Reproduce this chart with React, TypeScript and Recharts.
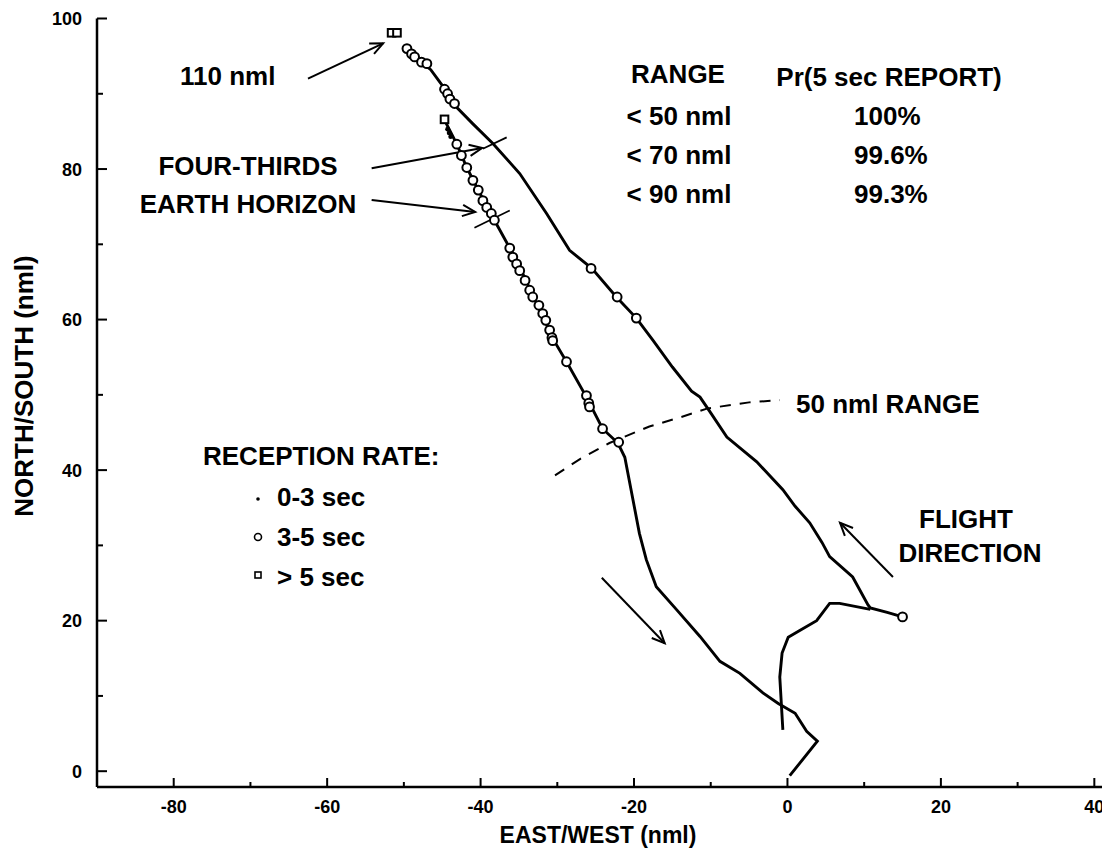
import { ComposedChart, XAxis, YAxis, Scatter, ReferenceLine } from "recharts"

// flight track (nml east/west, nml north/south)
const outbound = [
  { x: -49.6, y: 96 }, { x: -48.8, y: 95 }, { x: -47.5, y: 94 }, { x: -46.5, y: 93.2 },
  { x: -45.5, y: 91.8 }, { x: -44.7, y: 90.7 }, { x: -43.5, y: 88.6 }, { x: -41, y: 86 },
  { x: -38.4, y: 83.4 }, { x: -34.9, y: 79.4 }, { x: -31.4, y: 74.1 }, { x: -28.4, y: 69.2 },
  { x: -25.5, y: 66.8 }, { x: -22.3, y: 63 }, { x: -19.7, y: 60.2 }, { x: -17.5, y: 57.2 },
  { x: -15, y: 53.7 }, { x: -12.5, y: 50.5 }, { x: -11.4, y: 49.7 }, { x: -10.2, y: 47.9 },
  { x: -7.9, y: 44.4 }, { x: -4, y: 41.1 }, { x: -0.6, y: 37.4 }, { x: 1, y: 35.2 },
  { x: 2.9, y: 33 }, { x: 4.5, y: 30.4 }, { x: 5.5, y: 28.5 }, { x: 8.5, y: 25.8 },
  { x: 10.5, y: 22.1 }, { x: 10.8, y: 21.7 }, { x: 13, y: 21.1 }, { x: 15, y: 20.5 },
]

const inbound = [
  { x: -44.7, y: 86.5 }, { x: -43.1, y: 83.3 }, { x: -41.8, y: 80.2 }, { x: -40.1, y: 76.8 },
  { x: -38.2, y: 73.2 }, { x: -36.2, y: 69.5 }, { x: -34.5, y: 66.1 }, { x: -33.2, y: 63.2 },
  { x: -31.9, y: 60.5 }, { x: -30.6, y: 57.5 }, { x: -28.8, y: 54.4 }, { x: -26.2, y: 49.7 },
  { x: -24.1, y: 45.5 }, { x: -22.1, y: 43.6 }, { x: -21.2, y: 41.7 }, { x: -20.2, y: 36.4 },
  { x: -19.3, y: 31.6 }, { x: -18.4, y: 28.1 }, { x: -17.1, y: 24.5 }, { x: -14.4, y: 21.4 },
  { x: -11.4, y: 17.9 }, { x: -8.8, y: 14.6 }, { x: -6.2, y: 13 }, { x: -3.2, y: 10.4 },
  { x: -1.2, y: 9 }, { x: 1, y: 7.7 }, { x: 2.5, y: 5.3 }, { x: 3.9, y: 4 }, { x: 0.3, y: -0.6 },
]

const climb = [
  { x: -0.6, y: 5.5 }, { x: -1, y: 12.5 }, { x: -0.7, y: 15.7 }, { x: 0.1, y: 17.8 },
  { x: 1.6, y: 18.7 }, { x: 3.8, y: 20 }, { x: 5.5, y: 22.3 }, { x: 6.8, y: 22.3 },
  { x: 10.8, y: 21.5 },
]

const rangeArc = [
  { x: -30.3, y: 39.3 }, { x: -27, y: 41.5 }, { x: -23.2, y: 43.6 }, { x: -18, y: 45.8 },
  { x: -14, y: 47 }, { x: -10.4, y: 48.2 }, { x: -5, y: 49 }, { x: -1, y: 49.3 },
]

// reception rate markers
const fastRate = [{ x: -44.3, y: 85.3 }, { x: -44.1, y: 84.8 }, { x: -43.9, y: 84.3 }]
const midRate = [
  { x: -49.6, y: 96 }, { x: -49, y: 95.3 }, { x: -48.6, y: 94.9 }, { x: -47.7, y: 94.2 },
  { x: -47, y: 94 }, { x: -44.7, y: 90.6 }, { x: -44.3, y: 90 }, { x: -44, y: 89.3 },
  { x: -43.4, y: 88.7 }, { x: -25.6, y: 66.8 }, { x: -22.2, y: 63 }, { x: -19.7, y: 60.2 },
  { x: 15, y: 20.5 },
  { x: -43.1, y: 83.3 }, { x: -42.5, y: 81.8 }, { x: -41.8, y: 80.2 }, { x: -41, y: 78.5 },
  { x: -40.3, y: 77.2 }, { x: -39.7, y: 75.8 }, { x: -39.2, y: 74.9 }, { x: -38.6, y: 74.1 },
  { x: -38.2, y: 73.2 }, { x: -36.2, y: 69.5 }, { x: -35.8, y: 68.3 }, { x: -35.3, y: 67.4 },
  { x: -34.9, y: 66.5 }, { x: -34.2, y: 65.2 }, { x: -33.6, y: 63.9 }, { x: -33.2, y: 63 },
  { x: -32.4, y: 61.9 }, { x: -31.9, y: 60.8 }, { x: -31.5, y: 59.9 }, { x: -31, y: 58.6 },
  { x: -30.7, y: 57.6 }, { x: -30.6, y: 57.2 }, { x: -28.8, y: 54.4 }, { x: -26.2, y: 49.9 },
  { x: -25.9, y: 48.9 }, { x: -25.8, y: 48.4 }, { x: -24.1, y: 45.5 }, { x: -22, y: 43.7 },
]
const slowRate = [{ x: -51.6, y: 98.1 }, { x: -50.9, y: 98.1 }, { x: -44.7, y: 86.6 }]

// annotation arrows and horizon marks
const arrows = [
  { from: { x: -62.5, y: 92 }, to: { x: -52.7, y: 96.7 } },
  { from: { x: -54.2, y: 80.1 }, to: { x: -39.8, y: 82.8 } },
  { from: { x: -54.2, y: 75.9 }, to: { x: -40.7, y: 74.3 } },
  { from: { x: 13.75, y: 25.8 }, to: { x: 6.85, y: 33 } },
  { from: { x: -24.2, y: 25.7 }, to: { x: -16, y: 17 } },
]
const horizonMarks = [
  { from: { x: -39.7, y: 82.7 }, to: { x: -36.6, y: 84.2 } },
  { from: { x: -40.8, y: 72.2 }, to: { x: -36.2, y: 74.5 } },
]

const xTicks = [-80, -70, -60, -50, -40, -30, -20, -10, 0, 10, 20, 30, 40]
const yTicks = [0, 10, 20, 30, 40, 50, 60, 70, 80, 90, 100]
const rangeTable = [
  { range: "< 50 nml", pr: "100%" },
  { range: "< 70 nml", pr: "99.6%" },
  { range: "< 90 nml", pr: "99.3%" },
]

const FONT = "'Liberation Sans', Arial, Helvetica, sans-serif"

const BottomTick = (p: any) => {
  const major = p.payload.value % 20 === 0
  return (
    <g>
      <line x1={p.x} y1={p.y} x2={p.x} y2={p.y - (major ? 9 : 5)} stroke="#000" strokeWidth={2} />
      {major && (
        <text x={p.x} y={p.y + 26} textAnchor="middle" fontFamily={FONT} fontWeight="bold" fontSize={18} fill="#000">
          {p.payload.value}
        </text>
      )}
    </g>
  )
}

const TopTick = (p: any) => {
  const major = p.payload.value % 20 === 0
  return <line x1={p.x} y1={p.y} x2={p.x} y2={p.y + (major ? 8 : 4)} stroke="#000" strokeWidth={2} />
}

const LeftTick = (p: any) => {
  const major = p.payload.value % 20 === 0
  return (
    <g>
      <line x1={p.x} y1={p.y} x2={p.x + (major ? 10 : 6)} y2={p.y} stroke="#000" strokeWidth={2} />
      {major && (
        <text x={p.x - 15} y={p.y + 6.5} textAnchor="end" fontFamily={FONT} fontWeight="bold" fontSize={18} fill="#000">
          {p.payload.value}
        </text>
      )}
    </g>
  )
}

const RightTick = (p: any) => (
  <line x1={p.x} y1={p.y} x2={p.x - 4} y2={p.y} stroke="#000" strokeWidth={2} />
)

const ArrowShape = (p: any) => {
  const { x1, y1, x2, y2 } = p
  const a = Math.atan2(y2 - y1, x2 - x1)
  const L = 14
  const w = 0.42
  const pts = [
    [x2 - L * Math.cos(a - w), y2 - L * Math.sin(a - w)],
    [x2, y2],
    [x2 - L * Math.cos(a + w), y2 - L * Math.sin(a + w)],
  ]
  return (
    <g>
      <line x1={x1} y1={y1} x2={x2} y2={y2} stroke="#000" strokeWidth={2} />
      <polyline points={pts.map((q) => q.join(",")).join(" ")} fill="none" stroke="#000" strokeWidth={2} />
    </g>
  )
}

const noDot = () => <g />
const circleDot = (p: any) => <circle cx={p.cx} cy={p.cy} r={4.4} fill="#fff" stroke="#000" strokeWidth={2} />
const squareDot = (p: any) => (
  <rect x={p.cx - 3.8} y={p.cy - 3.8} width={7.6} height={7.6} fill="#fff" stroke="#000" strokeWidth={2} />
)
const smallDot = (p: any) => <circle cx={p.cx} cy={p.cy} r={2.4} fill="#000" />

const pathLine = { stroke: "#000", strokeWidth: 2.9 }

export default function App() {
  const t = { fontFamily: FONT, fontWeight: "bold" as const, fontSize: 26, fill: "#000" }
  return (
    <div style={{ position: "absolute", left: 0, top: 0, width: 1102, height: 848, background: "#fff" }}>
      <ComposedChart width={1102} height={848} margin={{ top: 18.5, right: 0, bottom: 0, left: 0 }}>
        <XAxis xAxisId="b" type="number" dataKey="x" domain={[-90, 41]} ticks={xTicks} interval={0}
          height={61} tickSize={0} tickMargin={0} tick={<BottomTick />} allowDataOverflow
          axisLine={{ stroke: "#000", strokeWidth: 2.5 }} />
        <XAxis xAxisId="t" orientation="top" type="number" dataKey="x" domain={[-90, 41]} ticks={xTicks}
          interval={0} height={0} tickSize={0} tickMargin={0} tick={<TopTick />} allowDataOverflow
          axisLine={{ stroke: "#000", strokeWidth: 2.5 }} />
        <YAxis yAxisId="l" type="number" dataKey="y" domain={[-2.1, 100]} ticks={yTicks} interval={0}
          width={97} tickSize={0} tickMargin={0} tick={<LeftTick />} allowDataOverflow
          axisLine={{ stroke: "#000", strokeWidth: 2.5 }} />
        <YAxis yAxisId="r" orientation="right" type="number" dataKey="y" domain={[-2.1, 100]}
          ticks={[20, 40, 60, 80]} interval={0} width={0} tickSize={0} tickMargin={0}
          tick={<RightTick />} axisLine={false} allowDataOverflow />

        <Scatter xAxisId="b" yAxisId="l" data={outbound} fill="#000" line={pathLine} shape={noDot} isAnimationActive={false} />
        <Scatter xAxisId="b" yAxisId="l" data={inbound} fill="#000" line={pathLine} shape={noDot} isAnimationActive={false} />
        <Scatter xAxisId="b" yAxisId="l" data={climb} fill="#000" line={pathLine} shape={noDot} isAnimationActive={false} />
        <Scatter xAxisId="b" yAxisId="l" data={rangeArc} fill="#000"
          line={{ stroke: "#000", strokeWidth: 2, strokeDasharray: "11 9" }} shape={noDot} isAnimationActive={false} />

        {arrows.map((s, i) => (
          <ReferenceLine key={"a" + i} xAxisId="b" yAxisId="l" segment={[s.from, s.to]} shape={ArrowShape} />
        ))}
        {horizonMarks.map((s, i) => (
          <ReferenceLine key={"h" + i} xAxisId="b" yAxisId="l" segment={[s.from, s.to]} stroke="#000" strokeWidth={1.8} />
        ))}

        <Scatter xAxisId="b" yAxisId="l" data={fastRate} fill="#000" shape={smallDot} isAnimationActive={false} />
        <Scatter xAxisId="b" yAxisId="l" data={midRate} fill="#000" shape={circleDot} isAnimationActive={false} />
        <Scatter xAxisId="b" yAxisId="l" data={slowRate} fill="#000" shape={squareDot} isAnimationActive={false} />
      </ComposedChart>

      <svg width={1102} height={848} style={{ position: "absolute", left: 0, top: 0, pointerEvents: "none" }}>
        <text {...t} x={180} y={85}>110 nml</text>
        <text {...t} x={248} y={175} textAnchor="middle">FOUR-THIRDS</text>
        <text {...t} x={248} y={213} textAnchor="middle">EARTH HORIZON</text>

        <text {...t} x={678} y={83} textAnchor="middle">RANGE</text>
        <text {...t} x={889} y={86} textAnchor="middle">Pr(5 sec REPORT)</text>
        {rangeTable.map((r, i) => (
          <g key={r.range}>
            <text {...t} x={679} y={125 + i * 39} textAnchor="middle">{r.range}</text>
            <text {...t} x={854} y={125 + i * 39}>{r.pr}</text>
          </g>
        ))}

        <text {...t} x={796} y={413}>50 nml RANGE</text>
        <text {...t} x={966} y={528} textAnchor="middle">FLIGHT</text>
        <text {...t} x={970} y={562} textAnchor="middle">DIRECTION</text>

        <text {...t} x={203} y={465}>RECEPTION RATE:</text>
        <circle cx={258} cy={499} r={1.8} fill="#000" />
        <text {...t} x={277} y={506}>0-3 sec</text>
        <circle cx={258} cy={537} r={3.5} fill="#fff" stroke="#000" strokeWidth={1.6} />
        <text {...t} x={277} y={546}>3-5 sec</text>
        <rect x={255} y={572} width={6} height={6} fill="#fff" stroke="#000" strokeWidth={1.6} />
        <text {...t} x={277} y={586}>&gt; 5 sec</text>

        <text {...t} fontSize={23} x={598} y={843} textAnchor="middle">EAST/WEST (nml)</text>
        <text {...t} x={0} y={0} textAnchor="middle" transform="translate(33 386) rotate(-90)">NORTH/SOUTH (nml)</text>
      </svg>
    </div>
  )
}
